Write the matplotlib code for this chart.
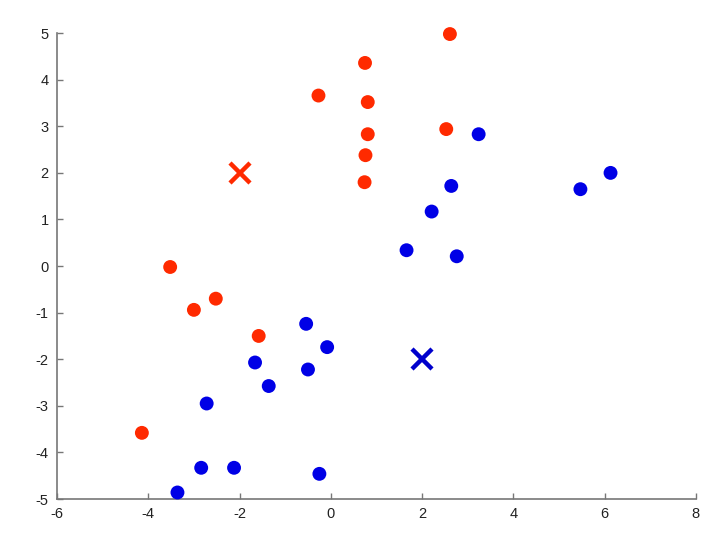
import matplotlib
matplotlib.use("Agg")
import matplotlib.pyplot as plt

# cluster A (red) and cluster B (blue) points, plus centroids
red_x = [2.61, 0.75, -0.27, 0.81, 0.81, 0.76, 0.74, 2.53, -3.52, -3.0, -2.52, -1.58, -4.14]
red_y = [4.98, 4.36, 3.66, 3.52, 2.83, 2.38, 1.80, 2.94, -0.02, -0.94, -0.70, -1.50, -3.58]
blue_x = [3.24, 2.64, 2.21, 1.66, 2.76, 5.47, 6.13, -0.54, -0.08, -1.66, -0.5, -1.36, -2.72, -2.84, -2.12, -0.25, -3.36]
blue_y = [2.83, 1.72, 1.17, 0.34, 0.21, 1.65, 2.0, -1.24, -1.74, -2.07, -2.22, -2.575, -2.95, -4.33, -4.33, -4.46, -4.86]
centroids_x = [-2, 2]
centroids_y = [2, -2]

xticks = [-6, -4, -2, 0, 2, 4, 6, 8]
yticks = [-5, -4, -3, -2, -1, 0, 1, 2, 3, 4, 5]

RED = "#ff2a00"
BLUE = "#0000e6"

plt.rcParams["font.family"] = ["Liberation Sans", "DejaVu Sans"]
plt.rcParams["axes.unicode_minus"] = False
fig = plt.figure(figsize=(7.26, 5.52), dpi=100)
ax = fig.add_axes([0.0785, 0.096, 0.880, 0.844])

ax.scatter(red_x, red_y, s=100, color=RED, edgecolors="none", clip_on=False, zorder=3)
ax.scatter(blue_x, blue_y, s=100, color=BLUE, edgecolors="none", clip_on=False, zorder=3)
ax.plot(centroids_x[0], centroids_y[0], "x", color=RED, ms=15, mew=3.2, clip_on=False, zorder=4)
ax.plot(centroids_x[1], centroids_y[1], "x", color="#0000cc", ms=15, mew=3.2, clip_on=False, zorder=4)

ax.set_xlim(-6, 8)
ax.set_ylim(-5, 5)
ax.set_xticks(xticks)
ax.set_yticks(yticks)
for s in ["top", "right"]:
    ax.spines[s].set_visible(False)
for s in ["left", "bottom"]:
    ax.spines[s].set_color("#777777")
    ax.spines[s].set_linewidth(1.2)
ax.tick_params(direction="in", length=4, width=1, colors="#777777",
               labelcolor="#222222", labelsize=10.5, pad=6)

fig.savefig("out.png", dpi=100)
